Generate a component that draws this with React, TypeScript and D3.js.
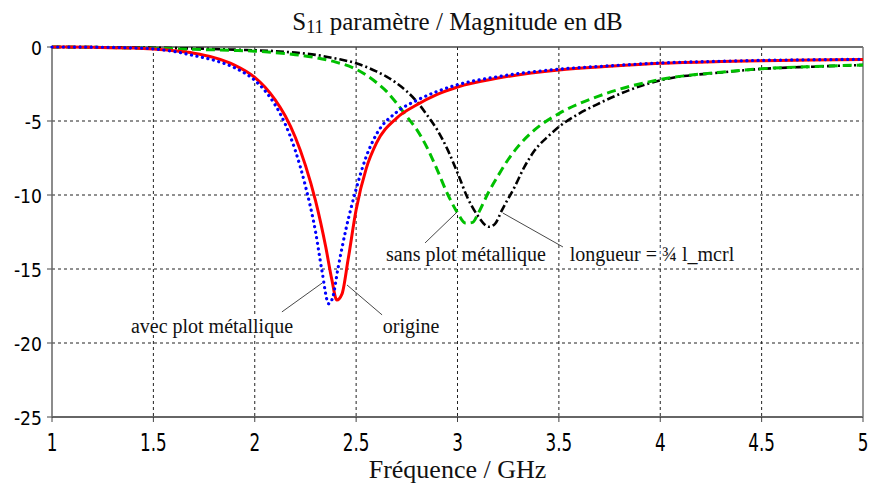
import React from "react";
import * as d3 from "d3";

const W = 869;
const H = 485;

// x tick values (GHz) and y tick values (dB)
const xTicks = [1, 1.5, 2, 2.5, 3, 3.5, 4, 4.5, 5];
const yTicks = [0, -5, -10, -15, -20, -25];

// Series: [frequency GHz, S11 dB]
const origine: [number, number][] = [
  [1.0, 0], [1.2, -0.02], [1.4, -0.07], [1.5, -0.14], [1.6, -0.25], [1.7, -0.42],
  [1.8, -0.72], [1.9, -1.22], [2.0, -2.05], [2.05, -2.7], [2.1, -3.55], [2.15, -4.65],
  [2.2, -6.1], [2.25, -8.0], [2.3, -10.4], [2.35, -13.5], [2.38, -15.7], [2.405, -17.1],
  [2.43, -16.7], [2.46, -14.4], [2.5, -11.0], [2.55, -8.2], [2.6, -6.5], [2.7, -4.8],
  [2.8, -3.9], [2.9, -3.2], [3.0, -2.7], [3.2, -2.1], [3.5, -1.55], [3.75, -1.3],
  [4.0, -1.1], [4.3, -0.98], [4.5, -0.93], [4.75, -0.88], [5.0, -0.85],
];

const avecPlot: [number, number][] = [
  [1.0, 0], [1.2, -0.01], [1.4, -0.06], [1.5, -0.13], [1.6, -0.3], [1.7, -0.58],
  [1.8, -0.9], [1.9, -1.4], [2.0, -2.25], [2.05, -2.95], [2.1, -3.9], [2.15, -5.2],
  [2.2, -7.0], [2.25, -9.4], [2.3, -12.5], [2.33, -15.0], [2.365, -17.35], [2.385, -16.9],
  [2.41, -15.0], [2.45, -12.3], [2.5, -9.6], [2.55, -7.4], [2.6, -5.9], [2.7, -4.4],
  [2.8, -3.6], [2.9, -3.0], [3.0, -2.55], [3.2, -2.0], [3.5, -1.5], [3.75, -1.27],
  [4.0, -1.08], [4.3, -0.96], [4.5, -0.9], [4.75, -0.86], [5.0, -0.83],
];

const sansPlot: [number, number][] = [
  [1.0, 0], [1.3, -0.04], [1.5, -0.09], [1.7, -0.16], [1.9, -0.23], [2.0, -0.28],
  [2.1, -0.38], [2.2, -0.52], [2.3, -0.72], [2.4, -1.02], [2.5, -1.5], [2.6, -2.4],
  [2.65, -3.0], [2.7, -3.8], [2.75, -4.7], [2.8, -5.6], [2.85, -6.8], [2.9, -8.3],
  [2.95, -9.9], [3.0, -11.2], [3.04, -11.9], [3.075, -11.85], [3.1, -11.3], [3.15, -9.9],
  [3.2, -8.7], [3.25, -7.6], [3.3, -6.7], [3.38, -5.6], [3.5, -4.5], [3.7, -3.3],
  [4.0, -2.2], [4.3, -1.7], [4.5, -1.47], [4.75, -1.32], [5.0, -1.22],
];

const longueur: [number, number][] = [
  [1.0, 0], [1.3, -0.02], [1.5, -0.05], [1.7, -0.1], [1.9, -0.18], [2.1, -0.28],
  [2.2, -0.38], [2.3, -0.53], [2.4, -0.78], [2.5, -1.1], [2.6, -1.65], [2.65, -2.0],
  [2.7, -2.45], [2.75, -3.0], [2.8, -3.7], [2.85, -4.6], [2.9, -5.6], [2.95, -6.9],
  [3.0, -8.5], [3.05, -10.2], [3.1, -11.4], [3.155, -12.15], [3.185, -11.95], [3.22, -11.0],
  [3.28, -9.5], [3.33, -8.1], [3.38, -7.0], [3.45, -6.0], [3.5, -5.4], [3.6, -4.5],
  [3.7, -3.8], [3.85, -2.9], [4.0, -2.25], [4.3, -1.72], [4.5, -1.48], [4.75, -1.33],
  [5.0, -1.22],
];

// Annotations: label, text anchor point (GHz, dB), leader line start/end (GHz, dB)
const annotLabels = ["avec plot métallique", "origine", "sans plot métallique", "longueur = ¾ l_mcrl"];
const annotText: [number, number][] = [[1.789, -19.32], [2.771, -19.32], [3.042, -14.46], [3.959, -14.46]];
const annotFrom: [number, number][] = [[2.134, -17.9], [2.455, -16.08], [2.84, -13.24], [3.224, -11.22]];
const annotTo: [number, number][] = [[2.332, -15.95], [2.628, -18.1], [2.998, -11.15], [3.52, -13.51]];

const M = { left: 52, right: 863, top: 47, bottom: 417 };

export default function App() {
  const x = d3.scaleLinear().domain([1, 5]).range([M.left, M.right]);
  const y = d3.scaleLinear().domain([0, -25]).range([M.top, M.bottom]);
  const line = d3
    .line<[number, number]>()
    .x((d) => x(d[0]))
    .y((d) => y(d[1]))
    .curve(d3.curveMonotoneX);

  const serif = "'Liberation Serif', 'Times New Roman', serif";
  const sans = "'DejaVu Sans', Verdana, sans-serif";
  const cx = (M.left + M.right) / 2;

  return (
    <svg width={W} height={H} style={{ position: "absolute", left: 0, top: 0, background: "#fff" }}>
      <rect x={0} y={0} width={W} height={H} fill="#fff" />
      {/* grid */}
      {xTicks.slice(1, -1).map((t) => (
        <line key={"gx" + t} x1={x(t)} x2={x(t)} y1={M.top} y2={M.bottom} stroke="#222" strokeWidth={1} strokeDasharray="3,3" />
      ))}
      {yTicks.slice(1, -1).map((t) => (
        <line key={"gy" + t} x1={M.left} x2={M.right} y1={y(t)} y2={y(t)} stroke="#222" strokeWidth={1} strokeDasharray="3,3" />
      ))}
      {/* ticks */}
      {xTicks.map((t) => (
        <line key={"tx" + t} x1={x(t)} x2={x(t)} y1={M.bottom} y2={M.bottom + 5} stroke="#444" strokeWidth={1} />
      ))}
      {yTicks.map((t) => (
        <line key={"ty" + t} x1={M.left - 5} x2={M.left} y1={y(t)} y2={y(t)} stroke="#444" strokeWidth={1} />
      ))}
      {/* frame */}
      <line x1={M.left} x2={M.right} y1={M.top} y2={M.top} stroke="#444" strokeWidth={1.5} />
      <line x1={M.left} x2={M.right} y1={M.bottom} y2={M.bottom} stroke="#333" strokeWidth={1.5} />
      <line x1={M.left} x2={M.left} y1={M.top} y2={M.bottom} stroke="#666" strokeWidth={1.5} />
      <line x1={M.right} x2={M.right} y1={M.top} y2={M.bottom} stroke="#777" strokeWidth={1.5} />

      {/* tick labels */}
      {yTicks.map((t) => (
        <text
          key={"ly" + t}
          transform={`translate(42,${y(t) + 7.5}) scale(0.86,1)`}
          textAnchor="end"
          fontFamily={sans}
          fontSize={20}
          fill="#000"
        >
          {t}
        </text>
      ))}
      {xTicks.map((t) => (
        <text
          key={"lx" + t}
          transform={`translate(${x(t)},451) scale(0.7,1)`}
          textAnchor="middle"
          fontFamily={sans}
          fontSize={24}
          fill="#000"
        >
          {t}
        </text>
      ))}

      {/* series */}
      <path d={line(longueur) || ""} fill="none" stroke="#000" strokeWidth={2.6} strokeDasharray="8,3,2,3" />
      <path d={line(sansPlot) || ""} fill="none" stroke="#00c000" strokeWidth={3} strokeDasharray="9,5" />
      <path d={line(origine) || ""} fill="none" stroke="#ff0000" strokeWidth={3} />
      <path d={line(avecPlot) || ""} fill="none" stroke="#0000ff" strokeWidth={3.2} strokeDasharray="0.1,5.5" strokeLinecap="round" />

      {/* annotations */}
      {annotLabels.map((lab, i) => (
        <g key={"a" + i}>
          <line
            x1={x(annotFrom[i][0])}
            y1={y(annotFrom[i][1])}
            x2={x(annotTo[i][0])}
            y2={y(annotTo[i][1])}
            stroke="#333"
            strokeWidth={0.9}
          />
          <text
            x={x(annotText[i][0])}
            y={y(annotText[i][1])}
            textAnchor="middle"
            fontFamily={serif}
            fontSize={20}
            fill="#111"
            stroke="#fff"
            strokeWidth={4}
            paintOrder="stroke"
          >
            {lab}
          </text>
        </g>
      ))}

      {/* title */}
      <text x={cx} y={30} textAnchor="middle" fontFamily={serif} fontSize={25} fill="#111">
        S
        <tspan fontSize={18} dy={3}>11</tspan>
        <tspan dy={-3}> paramètre / Magnitude en dB</tspan>
      </text>
      {/* x axis label */}
      <text x={cx} y={478} textAnchor="middle" fontFamily={serif} fontSize={26} fill="#111">
        Fréquence / GHz
      </text>
    </svg>
  );
}
